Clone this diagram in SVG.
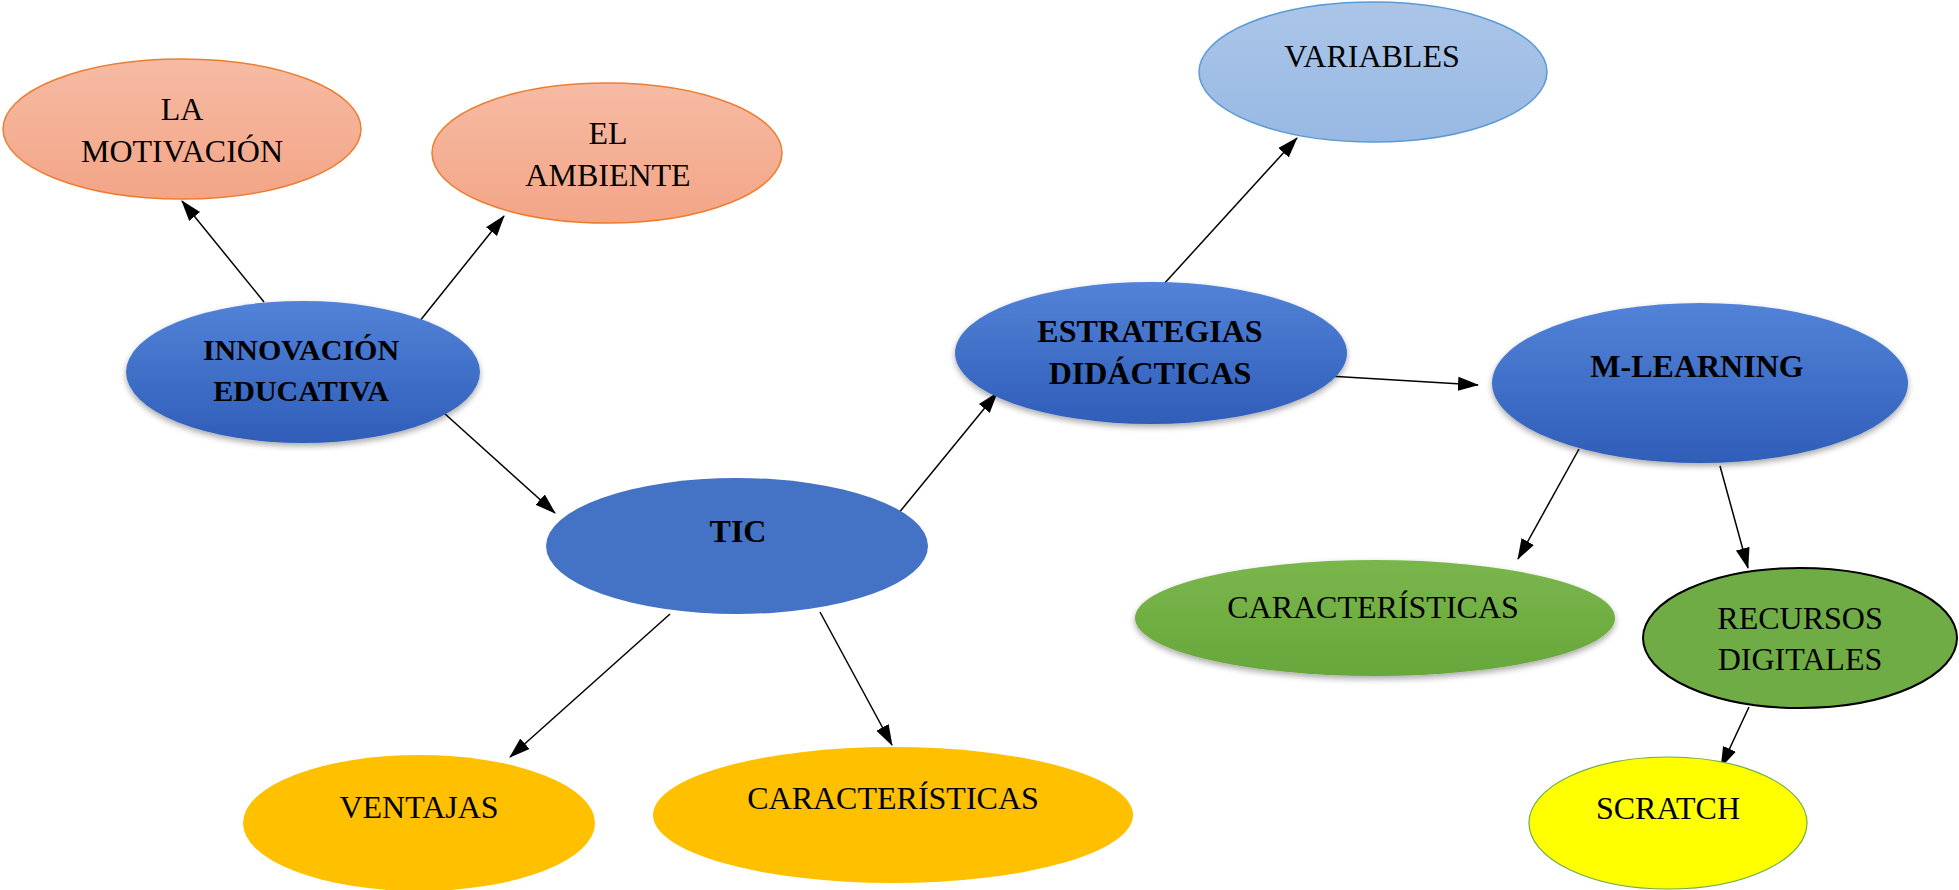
<svg xmlns="http://www.w3.org/2000/svg" width="1959" height="890" viewBox="0 0 1959 890">
<defs>
<linearGradient id="gSalmon" x1="0" y1="0" x2="0" y2="1">
<stop offset="0" stop-color="#F6BBA3"/>
<stop offset="1" stop-color="#F3A587"/>
</linearGradient>
<linearGradient id="gBlue" x1="0" y1="0" x2="0" y2="1">
<stop offset="0" stop-color="#5283D8"/>
<stop offset="1" stop-color="#2F5DB8"/>
</linearGradient>
<linearGradient id="gLight" x1="0" y1="0" x2="0" y2="1">
<stop offset="0" stop-color="#ABC5E8"/>
<stop offset="1" stop-color="#98B9E4"/>
</linearGradient>
<linearGradient id="gGreen" x1="0" y1="0" x2="0" y2="1">
<stop offset="0" stop-color="#7AB64C"/>
<stop offset="1" stop-color="#68A73A"/>
</linearGradient>
<filter id="soft" x="-10%" y="-10%" width="120%" height="125%">
<feGaussianBlur in="SourceAlpha" stdDeviation="3"/>
<feOffset dy="3" result="b"/>
<feComponentTransfer><feFuncA type="linear" slope="0.35"/></feComponentTransfer>
<feMerge><feMergeNode/><feMergeNode in="SourceGraphic"/></feMerge>
</filter>
<marker id="arr" markerWidth="22" markerHeight="16" refX="20" refY="8" orient="auto" markerUnits="userSpaceOnUse">
<path d="M0,1 L21,8 L0,15 z" fill="#000"/>
</marker>
</defs>
<style>
.t{font-family:"Liberation Serif","Times New Roman",serif;font-size:32px;fill:#000;text-anchor:middle}
.b{font-weight:bold}
.s30{font-size:30px}
.salmon{fill:url(#gSalmon);stroke:#ED7D31;stroke-width:1.5}
.blue{fill:url(#gBlue);stroke:none}
.edge{stroke:#000;stroke-width:1.5;fill:none;marker-end:url(#arr)}
</style>
<rect width="1959" height="890" fill="#fff"/>
<g id="connectors">
<line class="edge" x1="264" y1="302" x2="182" y2="201"/>
<line class="edge" x1="419" y1="322" x2="504" y2="216"/>
<line class="edge" x1="444" y1="413" x2="555" y2="513"/>
<line class="edge" x1="898" y1="514" x2="997" y2="393"/>
<line class="edge" x1="1163" y1="285" x2="1297" y2="138"/>
<line class="edge" x1="1312" y1="375" x2="1478" y2="385"/>
<line class="edge" x1="1579" y1="449" x2="1518" y2="559"/>
<line class="edge" x1="1720" y1="466" x2="1748" y2="568"/>
<line class="edge" x1="1749" y1="707" x2="1721" y2="767"/>
<line class="edge" x1="670" y1="614" x2="510" y2="757"/>
<line class="edge" x1="820" y1="612" x2="892" y2="745"/>
</g>
<g id="la-motivacion">
<ellipse class="salmon" cx="182" cy="129" rx="179" ry="70"/>
<text class="t" x="182" y="120">LA</text>
<text class="t" x="182" y="162">MOTIVACIÓN</text>
</g>
<g id="el-ambiente">
<ellipse class="salmon" cx="607" cy="153" rx="175" ry="70"/>
<text class="t" x="608" y="144">EL</text>
<text class="t" x="608" y="186">AMBIENTE</text>
</g>
<g id="innovacion-educativa">
<ellipse class="blue" cx="303" cy="372" rx="177" ry="71" filter="url(#soft)"/>
<text class="t b s30" x="301" y="360">INNOVACIÓN</text>
<text class="t b s30" x="301" y="401">EDUCATIVA</text>
</g>
<g id="tic">
<ellipse cx="737" cy="546" rx="191" ry="68" fill="#4472C4"/>
<text class="t b" x="738" y="542">TIC</text>
</g>
<g id="ventajas">
<ellipse cx="419" cy="823" rx="176" ry="68" fill="#FFC000"/>
<text class="t" x="419" y="818">VENTAJAS</text>
</g>
<g id="caracteristicas-tic">
<ellipse cx="893" cy="815" rx="240" ry="68" fill="#FFC000"/>
<text class="t" x="893" y="809">CARACTERÍSTICAS</text>
</g>
<g id="estrategias-didacticas">
<ellipse class="blue" cx="1151" cy="353" rx="196" ry="71" filter="url(#soft)"/>
<text class="t b" x="1150" y="342">ESTRATEGIAS</text>
<text class="t b" x="1150" y="384">DIDÁCTICAS</text>
</g>
<g id="variables">
<ellipse cx="1373" cy="72" rx="174" ry="70" fill="url(#gLight)" stroke="#5B9BD5" stroke-width="1.5"/>
<text class="t" x="1372" y="67">VARIABLES</text>
</g>
<g id="m-learning">
<ellipse class="blue" cx="1700" cy="383" rx="208" ry="80" filter="url(#soft)"/>
<text class="t b" x="1697" y="377">M-LEARNING</text>
</g>
<g id="caracteristicas-ml">
<ellipse cx="1375" cy="618" rx="240" ry="58" fill="url(#gGreen)" filter="url(#soft)"/>
<text class="t" x="1373" y="618">CARACTERÍSTICAS</text>
</g>
<g id="recursos-digitales">
<ellipse cx="1800" cy="638" rx="157" ry="70" fill="#6FAC46" stroke="#000" stroke-width="2"/>
<text class="t" x="1800" y="629">RECURSOS</text>
<text class="t" x="1800" y="670">DIGITALES</text>
</g>
<g id="scratch">
<ellipse cx="1668" cy="823" rx="139" ry="66" fill="#FFFF00" stroke="#70AD47" stroke-width="1.2"/>
<text class="t" x="1668" y="819">SCRATCH</text>
</g>
</svg>
